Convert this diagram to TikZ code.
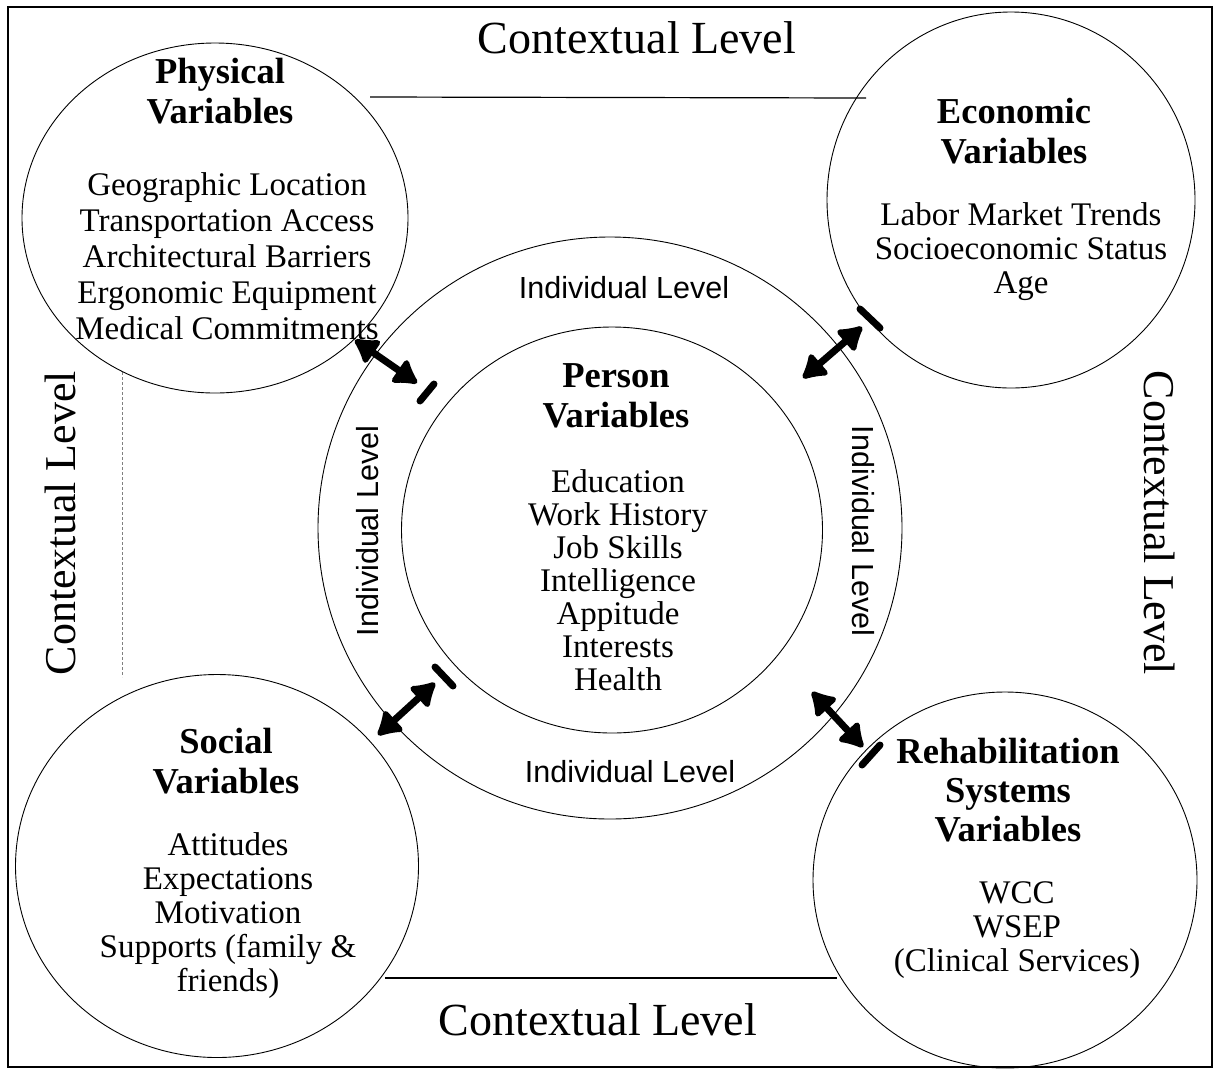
\documentclass[tikz,border=0pt]{standalone}
\usepackage{fontspec}
\setmainfont{Liberation Serif}
\setsansfont{Liberation Sans}
\usetikzlibrary{arrows.meta,shapes.geometric}

\begin{document}
\begin{tikzpicture}[x=1pt,y=-1pt,
  ring/.style={draw, ellipse, line width=0.9pt, inner sep=0pt, outer sep=0pt},
  titletxt/.style={anchor=north, align=center, inner sep=0pt,
    font=\fontsize{36.5pt}{40pt}\selectfont\bfseries},
  bodytxt/.style={anchor=north, align=center, inner sep=0pt,
    font=\fontsize{33pt}{34pt}\selectfont},
  ctxtxt/.style={inner sep=0pt, font=\fontsize{46pt}{50pt}\selectfont},
  sidectx/.style={inner sep=0pt, font=\fontsize{44pt}{48pt}\selectfont},
  indtxt/.style={inner sep=0pt, font=\sffamily\fontsize{30.5pt}{34pt}\selectfont},
  link/.style={line width=7pt,
    {Latex[length=27pt,width=34pt,round]}-{Latex[length=27pt,width=34pt,round]}},
  markbar/.style={line width=7pt, line cap=round},
  rule/.style={line width=1.2pt}
]
\useasboundingbox (0,0) rectangle (1215,1069);

% outer frame
\draw[line width=1.4pt] (8,7) rectangle (1212,1067);

% connecting lines of the contextual level
\coordinate (tl) at (370,97);
\coordinate (tr) at (866,98);
\coordinate (bl) at (385,978);
\coordinate (br) at (837,978);
\coordinate (lt) at (122,372);
\coordinate (lb) at (122,677);
\draw[rule] (tl) -- (tr);
\draw[rule] (bl) -- (br);
\draw[line width=0.7pt, gray, densely dashed] (lt) -- (lb);

% contextual circles
\node[ring, minimum width=386pt, minimum height=350pt] (phys) at (215,218) {};
\node[ring, minimum width=368pt, minimum height=376pt] (econ) at (1011,200) {};
\node[ring, minimum width=403pt, minimum height=383pt] (soc) at (217,866) {};
\node[ring, minimum width=384pt, minimum height=376pt] (rehab) at (1005,880) {};

% individual level rings
\node[ring, minimum width=584pt, minimum height=582pt] (outer) at (610,528) {};
\node[ring, minimum width=421pt, minimum height=406pt] (inner) at (612,530) {};

% level labels
\node[ctxtxt] (ctop) at (637,38) {Contextual Level};
\node[ctxtxt] (cbot) at (598,1020) {Contextual Level};
\node[sidectx, rotate=90] (cleft) at (60,523) {Contextual Level};
\node[sidectx, rotate=-90] (cright) at (1160,523) {Contextual Level};

\node[indtxt] (itop) at (624,288) {Individual Level};
\node[indtxt] (ibot) at (630,772) {Individual Level};
\node[indtxt, rotate=90] (ileft) at (368,531) {Individual Level};
\node[indtxt, rotate=-90] (iright) at (863,531) {Individual Level};

% circle contents
\node[titletxt] (physT) at (220,58) {Physical\\Variables};
\node[bodytxt, font=\fontsize{33pt}{36pt}\selectfont] (physB) at (227,172)
  {Geographic Location\\Transportation Access\\Architectural Barriers\\Ergonomic Equipment\\Medical Commitments};

\node[titletxt] (econT) at (1014,98) {Economic\\Variables};
\node[bodytxt] (econB) at (1021,202) {Labor Market Trends\\Socioeconomic Status\\Age};

\node[titletxt] (socT) at (226,728) {Social\\Variables};
\node[bodytxt] (socB) at (228,832) {Attitudes\\Expectations\\Motivation\\Supports (family \&\\friends)};

\node[titletxt, font=\fontsize{36.5pt}{39pt}\selectfont\bfseries] (rehabT) at (1008,738) {Rehabilitation\\Systems\\Variables};
\node[bodytxt] (rehabB) at (1017,881) {WCC\\WSEP\\(Clinical Services)};

\node[titletxt] (persT) at (616,363) {Person\\Variables};
\node[bodytxt, font=\fontsize{33pt}{33pt}\selectfont] (persB) at (618,469)
  {Education\\Work History\\Job Skills\\Intelligence\\Appitude\\Interests\\Health};

% interaction arrows
\coordinate (a1s) at (355,340); \coordinate (a1e) at (417,383);
\coordinate (a2s) at (803,378); \coordinate (a2e) at (862,327);
\coordinate (a3s) at (378,735); \coordinate (a3e) at (435,683);
\coordinate (a4s) at (812,692); \coordinate (a4e) at (863,747);
\draw[link] (a1s) -- (a1e);
\draw[link] (a2s) -- (a2e);
\draw[link] (a3s) -- (a3e);
\draw[link] (a4s) -- (a4e);

% boundary marks
\coordinate (m1s) at (420,401); \coordinate (m1e) at (434,384);
\coordinate (m2s) at (860,309); \coordinate (m2e) at (880,328);
\coordinate (m3s) at (435,667); \coordinate (m3e) at (453,686);
\coordinate (m4s) at (862,765); \coordinate (m4e) at (880,745);
\draw[markbar] (m1s) -- (m1e);
\draw[markbar] (m2s) -- (m2e);
\draw[markbar] (m3s) -- (m3e);
\draw[markbar] (m4s) -- (m4e);
\end{tikzpicture}
\end{document}
